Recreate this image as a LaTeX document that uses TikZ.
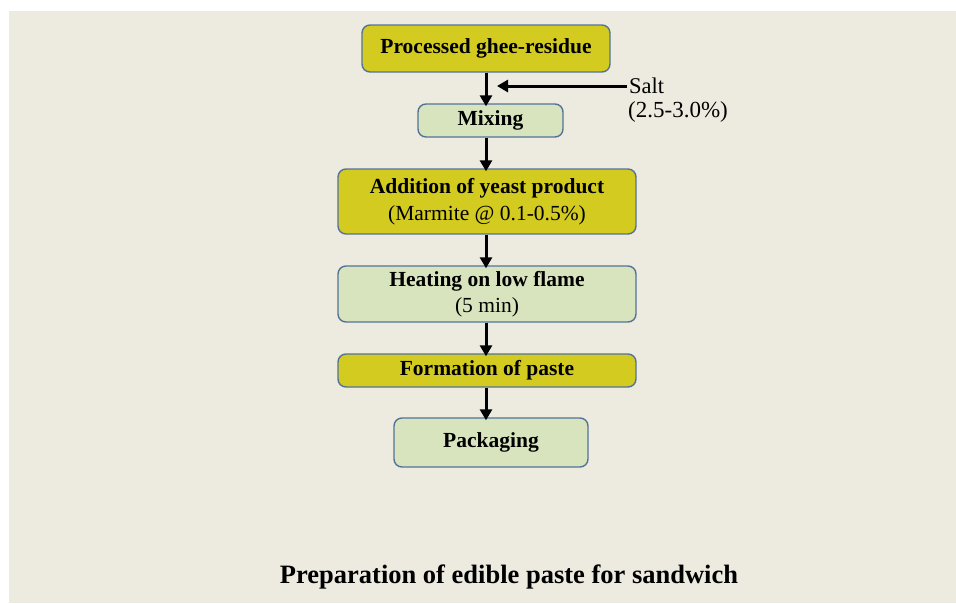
\documentclass[tikz,border=0pt]{standalone}
\usepackage{fontspec}
\setmainfont{Liberation Serif}
\usetikzlibrary{arrows.meta}
\definecolor{paper}{RGB}{237,234,224}
\definecolor{olive}{RGB}{211,203,32}
\definecolor{pale}{RGB}{216,228,190}
\definecolor{edge}{RGB}{84,115,152}
\begin{document}
\begin{tikzpicture}[x=1pt,y=-1pt,
  stage/.style={draw=edge,line width=1.4pt,rounded corners=8pt,align=center,
    font=\fontsize{21.5}{26.5}\selectfont\bfseries,inner sep=2pt},
  main/.style={stage,fill=olive},
  side/.style={stage,fill=pale},
  flow/.style={line width=3pt,-{Triangle[length=11pt,width=12pt]}}]
 \useasboundingbox (0,0) rectangle (956,603);
 \fill[paper] (9,11) rectangle (956,603);
 \node[main,minimum width=248pt,minimum height=47pt] (proc) at (486,48.5) {Processed ghee-residue};
 \node[side,minimum width=145pt,minimum height=33pt] (mix) at (490.5,120.5) {Mixing};
 \node[main,minimum width=298pt,minimum height=65pt] (yeast) at (487,201.5)
   {Addition of yeast product\\{\mdseries (Marmite @ 0.1-0.5\%)}};
 \node[side,minimum width=298pt,minimum height=56pt] (heat) at (487,294)
   {Heating on low flame\\{\mdseries (5 min)}};
 \node[main,minimum width=298pt,minimum height=33pt] (paste) at (487,370.5) {Formation of paste};
 \node[side,minimum width=194pt,minimum height=49pt] (pack) at (491,442.5) {Packaging};
 \node[anchor=west,inner sep=2pt,font=\fontsize{22.5}{26}\selectfont] (salt) at (627,86) {Salt};
 \node[anchor=west,inner sep=2pt,font=\fontsize{23}{26}\selectfont] (dose) at (626,112) {(2.5-3.0\%)};
 \node[font=\fontsize{26.5}{30}\selectfont\bfseries] (title) at (509,577)
   {Preparation of edible paste for sandwich};
 % arrows
 \coordinate (join) at ([xshift=11pt]proc.south |- salt.west);
 \draw[flow] (proc.south) -- ([yshift=-3pt]proc.south |- mix.north);
 \draw[flow] (salt.west) -- (join);
 \draw[flow] (proc.south |- mix.south) -- ([yshift=-3pt]proc.south |- yeast.north);
 \draw[flow] (proc.south |- yeast.south) -- ([yshift=-3pt]proc.south |- heat.north);
 \draw[flow] (proc.south |- heat.south) -- ([yshift=-3pt]proc.south |- paste.north);
 \draw[flow] (proc.south |- paste.south) -- ([yshift=-3pt]proc.south |- pack.north);
\end{tikzpicture}
\end{document}
